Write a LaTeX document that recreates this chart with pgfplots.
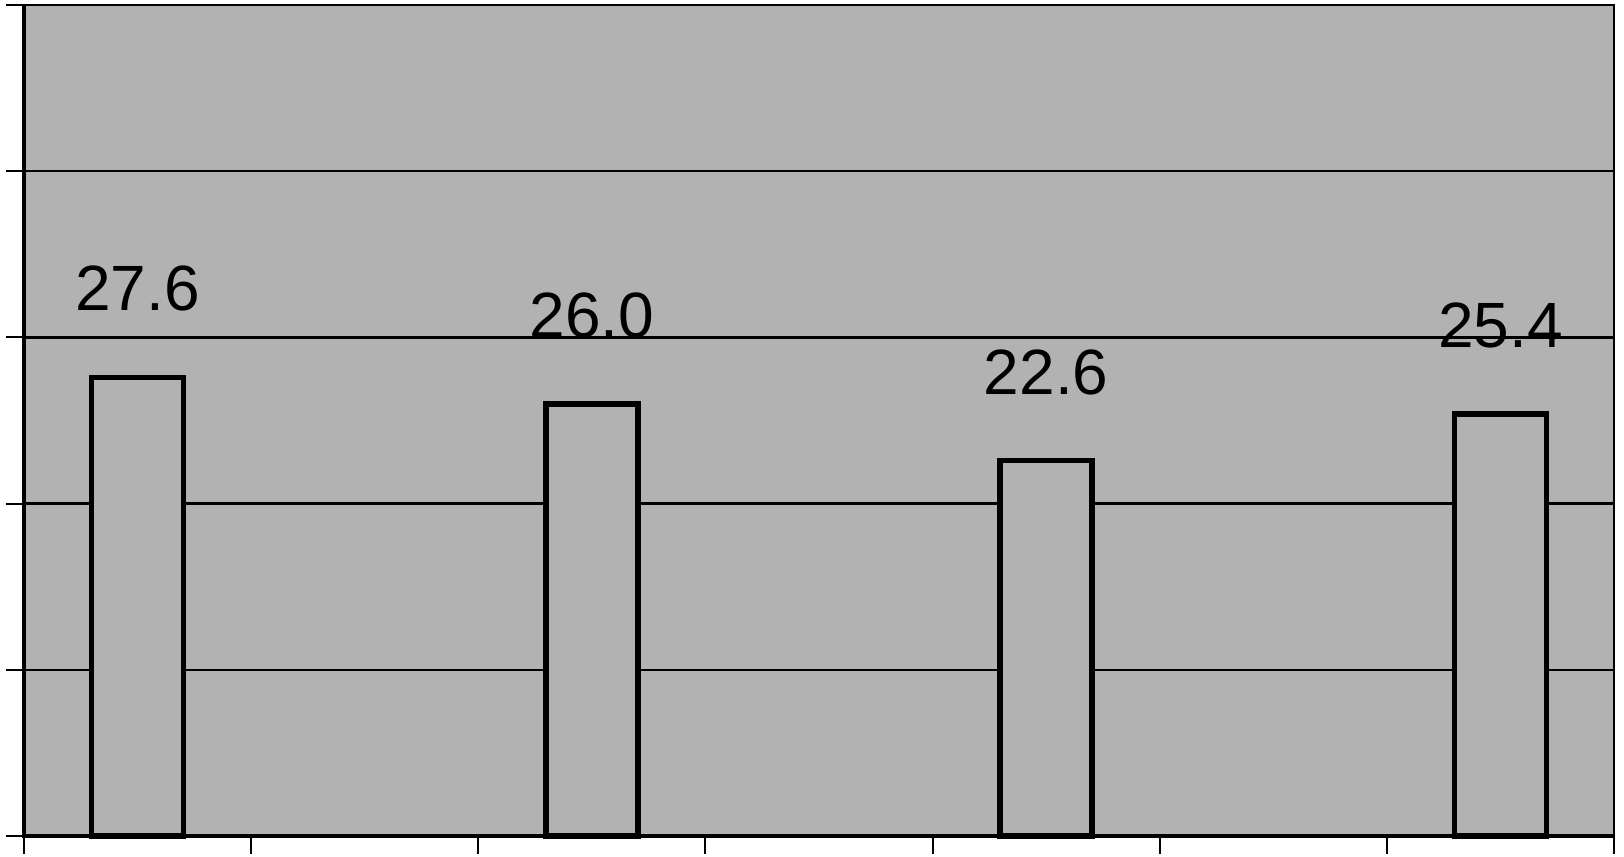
\documentclass[border=0pt]{standalone}
\usepackage{pgfplots}
\pgfplotsset{compat=1.18}
\usepackage{fontspec}
\setmainfont{Liberation Sans}
\definecolor{dither}{gray}{0.7}

\begin{document}
\begin{tikzpicture}
\begin{axis}[
  at={(0,0)}, anchor=south west,
  scale only axis, width=397.5pt, height=207.75pt,
  xmin=0, xmax=7, ymin=0, ymax=50,
  xtick={0,...,7}, ytick={0,10,...,50},
  xticklabels={}, yticklabels={},
  tick align=outside, major tick length=4.5pt,
  tick style={black, line width=0.5pt},
  xtick pos=bottom, ytick pos=left,
  ymajorgrids, grid style={black, line width=0.6pt},
  axis line style={line width=0.6pt},
  axis background/.style={fill=dither},
  ybar, bar width=23pt,
  nodes near coords={\pgfmathprintnumber[fixed,fixed zerofill,precision=1]{\pgfplotspointmeta}},
  every node near coord/.append style={anchor=south, inner sep=0pt, yshift=15.75pt,
    font=\fontsize{16}{19}\selectfont},
  /pgf/number format/assume math mode=true,
  clip=false,
]
\addplot[draw=black, fill=dither, line width=1.35pt] coordinates {
  (0.5,27.6) (2.5,26.0) (4.5,22.6) (6.5,25.4)};
\draw[line width=1.2pt] (axis cs:0,50) -- (axis cs:0,0) -- (axis cs:7,0);
\end{axis}
\pgfresetboundingbox
\path[use as bounding box] (-6pt,-5pt) rectangle (400pt,209pt);
\end{tikzpicture}
\end{document}
